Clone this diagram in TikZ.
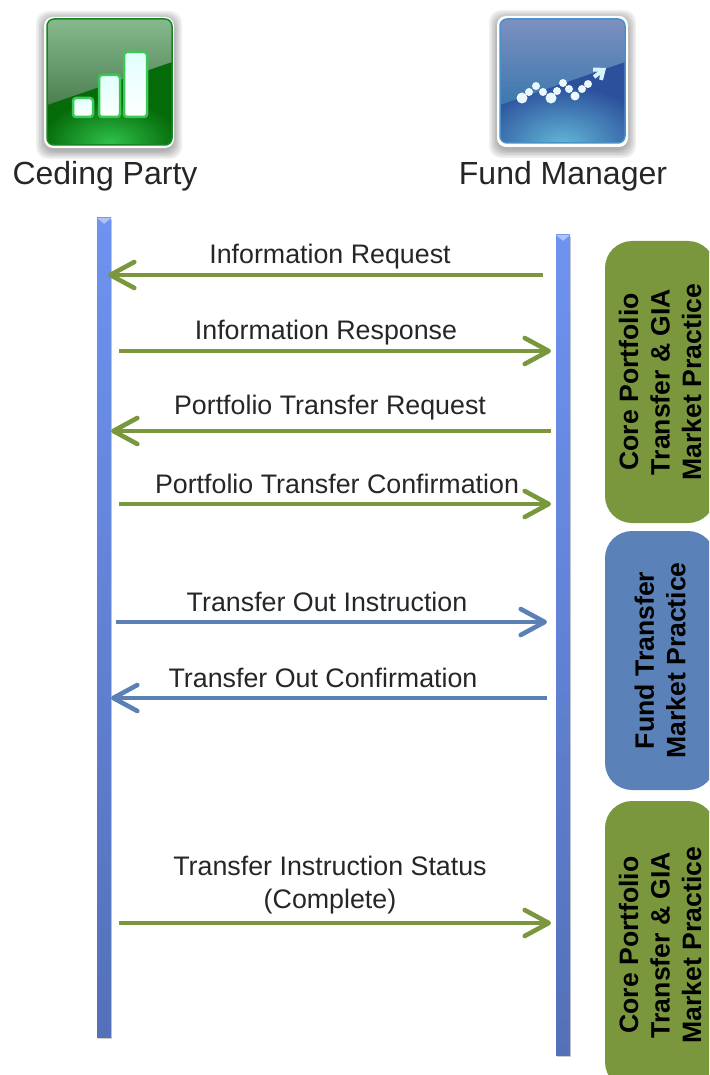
\documentclass[tikz,border=0pt]{standalone}
\usepackage{fontspec}
\setmainfont{Liberation Sans}
\usetikzlibrary{arrows.meta}

\definecolor{olivebox}{HTML}{7A973E}
\definecolor{bluebox}{HTML}{5A82B8}
\definecolor{arrowblue}{HTML}{5B80B6}
\definecolor{lifetop}{HTML}{6E93F0}
\definecolor{lifebot}{HTML}{5470B8}
\definecolor{greenbase}{HTML}{056A08}
\definecolor{greenglow}{HTML}{2FC04A}
\definecolor{greentop}{HTML}{86BA8E}
\definecolor{greenmid}{HTML}{4C7F50}
\definecolor{greenedge}{HTML}{3CC855}
\definecolor{bluebase}{HTML}{2C509C}
\definecolor{blueglow}{HTML}{62B8D6}
\definecolor{bluetop}{HTML}{7C90C0}
\definecolor{bluemid}{HTML}{3C78AE}
\definecolor{blueedge}{HTML}{4A90C8}

\begin{document}
\begin{tikzpicture}[
    x=1pt, y=-1pt,
    actor/.style = {font=\fontsize{32}{36}\selectfont, text=black!85},
    lifeline/.style = {rectangle, minimum width=14pt, inner sep=0pt, top color=lifetop, bottom color=lifebot},
    msg/.style = {font=\fontsize{26.8}{33}\selectfont, text=black!85, align=center, inner sep=0pt},
    flow/.style = {line width=4.6pt, -{Straight Barb[length=24pt,width=26pt,round]}},
    greenflow/.style = {flow, draw=olivebox},
    blueflow/.style = {flow, draw=arrowblue},
    panel/.style = {rectangle, rounded corners=27pt, rotate=90, text=black, inner sep=0pt, align=center,
        font=\bfseries\fontsize{26.6}{31.5}\selectfont},
    bar/.style = {rounded corners=3pt, draw=greenedge, line width=2.5pt, top color=green!6!cyan!12!white, bottom color=white}
]
  \clip (0,0) rectangle (709,1075);

  % ceding party icon
  \foreach \g in {18,15,12,9,6,3}
    \fill[black, opacity=0.06, rounded corners=12pt] (45-\g/2,20-\g/2) rectangle (173+\g/2,150+\g/2);
  \fill[white, rounded corners=9pt] (44,17) rectangle (174,148);
  \begin{scope}
    \clip[rounded corners=7pt] (47,19) rectangle (172,145);
    \fill[greenbase] (47,19) rectangle (172,145);
    \shade[inner color=greenglow, outer color=greenbase] (110,142) ellipse (70pt and 42pt);
    \shade[top color=greentop, bottom color=greenmid] (47,19) -- (172,19) -- (172,62) -- (47,105) -- cycle;
  \end{scope}
  \draw[greenbase!70!greenedge, line width=1.5pt, rounded corners=7pt] (47,19) rectangle (172,145);
  \draw[bar] (73,98) rectangle (93,117);
  \draw[bar] (99,75) rectangle (120,117);
  \draw[bar] (124,52) rectangle (147,117);

  % fund manager icon
  \foreach \g in {18,15,12,9,6,3}
    \fill[black, opacity=0.06, rounded corners=12pt] (498-\g/2,19-\g/2) rectangle (627+\g/2,149+\g/2);
  \fill[white, rounded corners=9pt] (497,16) rectangle (628,147);
  \begin{scope}
    \clip[rounded corners=7pt] (500,19) rectangle (625,143);
    \fill[bluebase] (500,19) rectangle (625,143);
    \shade[inner color=blueglow, outer color=bluebase] (562,145) ellipse (90pt and 60pt);
    \shade[top color=bluetop, bottom color=bluemid] (500,19) -- (625,19) -- (625,62) -- (500,105) -- cycle;
  \end{scope}
  \draw[blueedge, line width=1.5pt, rounded corners=7pt] (500,19) rectangle (625,143);
  \foreach \px/\py/\pr in {522/98/5.5,529/92/4,536/86/4,543/92/4,551/98/5.5,557/91/4,563/83/4,569/89/4,575/96/4.5,582/89/4,588/84/4}
    \fill[white!92!cyan] (\px,\py) circle (\pr pt);
  \draw[white!85!cyan, line width=4pt, -{Straight Barb[length=8pt,width=13pt]}] (594,77) -- (606,68);

  \node (cedinglabel) [actor] at (105,176) {Ceding Party};
  \node (fundlabel)   [actor] at (563,176) {Fund Manager};

  % lifelines
  \fill[black, opacity=0.2] (98,220) rectangle (112,1039);
  \fill[black, opacity=0.2] (557,237) rectangle (571,1057);
  \node (cedingline) [lifeline, minimum height=819pt] at (104,627.5) {};
  \node (fundline)   [lifeline, minimum height=820pt] at (563,645) {};
  \fill[white, opacity=0.45] (cedingline.north west) -- (cedingline.north east) -- ++(-7,6) -- cycle;
  \fill[white, opacity=0.45] (fundline.north west) -- (fundline.north east) -- ++(-7,6) -- cycle;

  % message ends
  \coordinate (inforeqL)  at (108,275);
  \coordinate (inforeqR)  at (543,275);
  \coordinate (inforesL)  at (119,351);
  \coordinate (inforesR)  at (551,351);
  \coordinate (portreqL)  at (111,431);
  \coordinate (portreqR)  at (551,431);
  \coordinate (portconL)  at (119,504);
  \coordinate (portconR)  at (551,504);
  \coordinate (outinsL)   at (116,622);
  \coordinate (outinsR)   at (547,622);
  \coordinate (outconL)   at (111,698);
  \coordinate (outconR)   at (547,698);
  \coordinate (statusL)   at (119,923);
  \coordinate (statusR)   at (551,923);

  \draw[greenflow] (inforeqR) -- (inforeqL);
  \draw[greenflow] (inforesL) -- (inforesR);
  \draw[greenflow] (portreqR) -- (portreqL);
  \draw[greenflow] (portconL) -- (portconR);
  \draw[blueflow]  (outinsL) -- (outinsR);
  \draw[blueflow]  (outconR) -- (outconL);
  \draw[greenflow] (statusL) -- (statusR);

  \node (inforeq) [msg] at (330,257) {Information Request};
  \node (infores) [msg] at (326,333) {Information Response};
  \node (portreq) [msg] at (330,408) {Portfolio Transfer Request};
  \node (portcon) [msg] at (337,484) {Portfolio Transfer Confirmation};
  \node (outins)  [msg] at (327,602) {Transfer Out Instruction};
  \node (outcon)  [msg] at (323,678) {Transfer Out Confirmation};
  \node (status)  [msg] at (330,885) {Transfer Instruction Status\\(Complete)};

  % practice panels
  \node (corepanel) [panel, fill=olivebox, minimum width=282pt, minimum height=110pt] at (660,382) {Core Portfolio\\Transfer \& GIA\\Market Practice};
  \node (fundpanel) [panel, fill=bluebox, minimum width=259pt, minimum height=110pt] at (660,660.5) {Fund Transfer\\Market Practice};
  \node (lastpanel) [panel, fill=olivebox, minimum width=288pt, minimum height=110pt] at (660,945) {Core Portfolio\\Transfer \& GIA\\Market Practice};
\end{tikzpicture}
\end{document}
